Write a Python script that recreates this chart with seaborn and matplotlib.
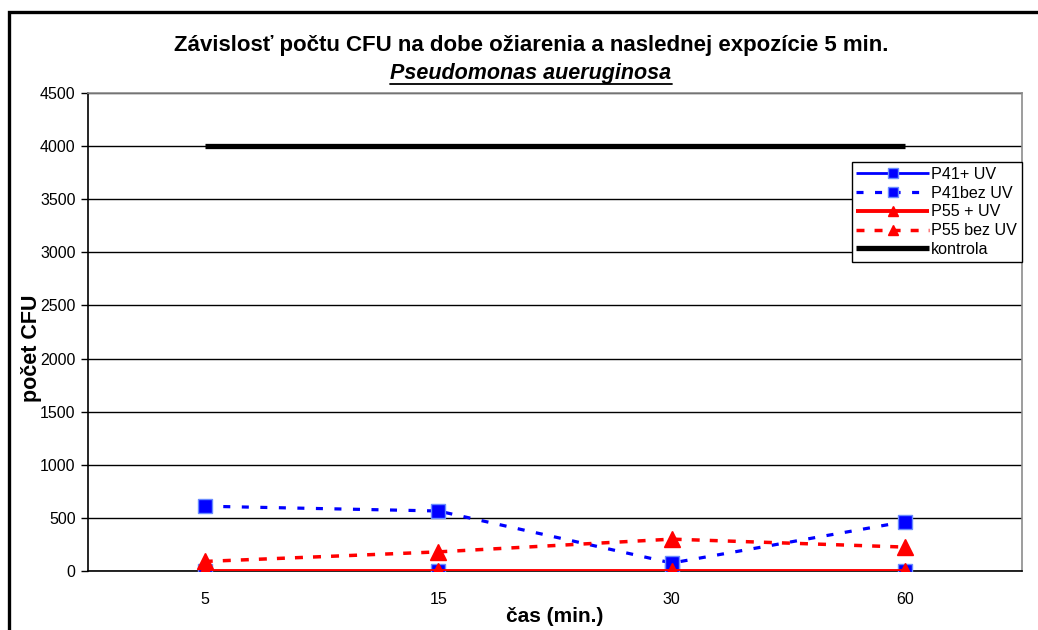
import matplotlib
matplotlib.use("Agg")
import matplotlib.pyplot as plt
from matplotlib.lines import Line2D
import seaborn as sns
import pandas as pd

# Exposure times (min.)
cas = ["5", "15", "30", "60"]

# CFU counts per series
p41_uv = [0, 0, 0, 0]
p41_bez_uv = [610, 565, 75, 465]
p55_uv = [0, 0, 0, 0]
p55_bez_uv = [90, 180, 300, 225]
kontrola = [4000, 4000, 4000, 4000]

series_names = ["P41+ UV", "P41bez UV", "P55 + UV", "P55 bez UV", "kontrola"]
series_values = [p41_uv, p41_bez_uv, p55_uv, p55_bez_uv, kontrola]

y_ticks = [0, 500, 1000, 1500, 2000, 2500, 3000, 3500, 4000, 4500]

sns.set_theme(style="white")
plt.rcParams["font.family"] = ["Liberation Sans", "DejaVu Sans"]
plt.rcParams["text.color"] = "#000000"
plt.rcParams["axes.labelcolor"] = "#000000"
plt.rcParams["xtick.color"] = "#000000"
plt.rcParams["ytick.color"] = "#000000"

fig = plt.figure(figsize=(10.38, 6.30), dpi=100)
ax = fig.add_axes([88 / 1038, 1 - 571 / 630, (1022 - 88) / 1038, (571 - 93) / 630])

styles = {
    "P41+ UV": dict(color="#0000FF", ls="-", marker="s", lw=2.0,
                    mec="#6A8CFF", ms=10),
    "P41bez UV": dict(color="#0000FF", ls=(0, (2.2, 3.6)), marker="s",
                      lw=2.3, mec="#6A8CFF", ms=10),
    "P55 + UV": dict(color="#FF0000", ls="-", marker="^", lw=2.8,
                     mec="#FF0000", ms=11),
    "P55 bez UV": dict(color="#FF0000", ls=(0, (2.3, 2.9)), marker="^",
                       lw=2.5, mec="#FF0000", ms=11),
    "kontrola": dict(color="#000000", ls="-", marker=None, lw=3.8,
                     mec="#000000", ms=0),
}

df = pd.DataFrame({"cas": cas})
for name, vals in zip(series_names, series_values):
    df[name] = vals

for i, name in enumerate(series_names):
    st = styles[name]
    sns.lineplot(data=df, x="cas", y=name, ax=ax, color=st["color"],
                 lw=st["lw"], marker=st["marker"],
                 markersize=st["ms"], markeredgecolor=st["mec"],
                 markeredgewidth=1.0, zorder=3 + i,
                 legend=False, sort=False)
    line = ax.lines[-1]
    line.set_linestyle(st["ls"])
    line.set_solid_capstyle("butt")
    line.set_dash_capstyle("butt")

ax.set_xlim(-0.5, len(cas) - 0.5)
ax.set_ylim(0, 4500)
ax.set_yticks(y_ticks)
ax.set_yticklabels([str(v) for v in y_ticks], fontsize=11.5)
ax.set_xticks(range(len(cas)))
ax.set_xticklabels(cas, fontsize=11.5)
ax.set_xticks([k - 0.5 for k in range(len(cas) + 1)], minor=True)
ax.tick_params(axis="x", which="major", length=0, pad=15)
ax.tick_params(axis="x", which="minor", length=5, width=1.0, color="#000000",
               direction="out")
ax.tick_params(axis="y", which="major", length=5, width=1.0, color="#000000",
               direction="out", left=True, pad=4)

ax.yaxis.grid(True, color="#000000", linewidth=1.0)
ax.xaxis.grid(False)
ax.set_axisbelow(True)
for side in ["left", "bottom"]:
    ax.spines[side].set_color("#000000")
    ax.spines[side].set_linewidth(1.2)
for side in ["top", "right"]:
    ax.spines[side].set_color("#8C8C8C")
    ax.spines[side].set_linewidth(1.2)

ax.set_xlabel("čas (min.)", fontsize=15, fontweight="bold", va="center")
ax.xaxis.set_label_coords(0.5, (571 - 617) / 478)
ax.set_ylabel("počet CFU", fontsize=15.5, fontweight="bold", va="center")
ax.yaxis.set_label_coords((32 - 88) / 934, 0.466)

handles = []
for name in series_names:
    st = styles[name]
    h = Line2D([], [], color=st["color"], lw=st["lw"],
               linestyle=st["ls"], marker=st["marker"],
               markersize=6.5 if st["marker"] else 0,
               markeredgecolor=st["mec"], markevery=[1],
               solid_capstyle="butt", dash_capstyle="butt")
    handles.append(h)
leg = ax.legend(handles=handles, labels=series_names, loc="upper right",
                bbox_to_anchor=(1.0, 0.856), fontsize=11.6, frameon=True,
                fancybox=False, framealpha=1, edgecolor="#000000",
                handlelength=4.5, handletextpad=0.15, borderpad=0.3,
                labelspacing=0.24, borderaxespad=0.0)
leg.get_frame().set_linewidth(1.0)
leg.set_zorder(20)

fig.text(531 / 1038, 1 - 45 / 630,
         "Závislosť počtu CFU na dobe ožiarenia a naslednej expozície 5 min.",
         ha="center", va="center", fontsize=16, fontweight="bold")
sub = fig.text(531 / 1038, 1 - 74 / 630, "Pseudomonas aueruginosa",
               ha="center", va="center", fontsize=15.5, fontweight="bold",
               style="italic")

# underline for the species name
fig.canvas.draw()
bb = sub.get_window_extent(renderer=fig.canvas.get_renderer())
fw, fh = fig.bbox.width, fig.bbox.height
uy = (bb.y0 + 1) / fh
fig.add_artist(Line2D([bb.x0 / fw, bb.x1 / fw], [uy, uy],
                      transform=fig.transFigure, color="#000000", lw=1.3))

# outer chart frame
fig.add_artist(Line2D([9 / 1038, 9 / 1038, 1.0], [0.0, 1 - 12 / 630, 1 - 12 / 630],
                      transform=fig.transFigure, color="#000000", lw=2.4,
                      solid_joinstyle="miter"))

fig.savefig("out.png", dpi=100)
